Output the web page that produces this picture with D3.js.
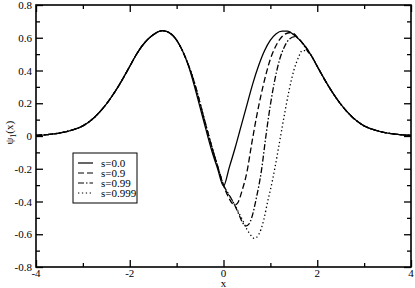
<!DOCTYPE html>
<html>
<head>
	<style type="text/css">
		body { margin: 0; background: #fff; }
		svg text { font-family: "Liberation Serif", "DejaVu Serif", serif; font-size: 11px; fill: #000; }
		.curve { fill: none; stroke: #000; stroke-width: 1.3; }
	</style>
</head>
<body>
	<div id="chart"></div>
	<script src="https://d3js.org/d3.v7.min.js"></script>
	<script type="text/javascript">
		// values
		var xs0  = [-4, -3.75, -3.5, -3.25, -3, -2.75, -2.5, -2.25, -2, -1.875, -1.75, -1.5, -1.3, -1.125, -1, -0.875, -0.75, -0.625, -0.5, -0.375, -0.25, -0.125, 0,
		            0.125, 0.25, 0.375, 0.5, 0.625, 0.75, 0.875, 1, 1.125, 1.25, 1.375, 1.5, 1.75, 1.875, 2, 2.25, 2.5, 2.75, 3, 3.25, 3.5, 3.75, 4];
		var ys0  = [0.004, 0.009, 0.018, 0.035, 0.062, 0.115, 0.195, 0.3, 0.425, 0.49, 0.545, 0.618, 0.643, 0.625, 0.585, 0.52, 0.43, 0.31, 0.175, 0.04, -0.09, -0.2, -0.305,
		            -0.19, -0.07, 0.06, 0.19, 0.32, 0.43, 0.52, 0.585, 0.625, 0.64, 0.64, 0.618, 0.545, 0.49, 0.425, 0.3, 0.195, 0.115, 0.062, 0.035, 0.018, 0.009, 0.004];

		var xs1  = [-0.75, -0.625, -0.5, -0.375, -0.25, -0.125, 0, 0.1, 0.2, 0.25, 0.3, 0.4, 0.5, 0.6, 0.7, 0.8, 0.9, 1, 1.1, 1.2, 1.3, 1.43, 1.5, 1.6, 1.75, 1.875, 2];
		var ys1  = [0.435, 0.33, 0.2, 0.065, -0.065, -0.185, -0.3, -0.37, -0.415, -0.42, -0.41, -0.33, -0.22, -0.05, 0.11, 0.25, 0.37, 0.47, 0.54, 0.59, 0.62, 0.632, 0.625, 0.595, 0.545, 0.49, 0.425];

		var xs2  = [-0.75, -0.625, -0.5, -0.375, -0.25, -0.125, 0, 0.1, 0.2, 0.3, 0.4, 0.47, 0.55, 0.6, 0.7, 0.81, 0.9, 1, 1.1, 1.2, 1.3, 1.4, 1.52, 1.6, 1.7, 1.8, 1.875, 2];
		var ys2  = [0.435, 0.33, 0.2, 0.065, -0.065, -0.185, -0.3, -0.35, -0.4, -0.46, -0.525, -0.55, -0.535, -0.5, -0.38, -0.21, -0.01, 0.19, 0.35, 0.47, 0.545, 0.59, 0.607, 0.595, 0.56, 0.515, 0.49, 0.425];

		var xs3  = [-0.75, -0.625, -0.5, -0.375, -0.25, -0.125, 0, 0.2, 0.4, 0.5, 0.6, 0.65, 0.7, 0.8, 0.86, 0.95, 1, 1.1, 1.2, 1.3, 1.4, 1.5, 1.6, 1.68, 1.78, 1.875, 2];
		var ys3  = [0.435, 0.33, 0.2, 0.065, -0.065, -0.185, -0.3, -0.4, -0.51, -0.57, -0.612, -0.625, -0.62, -0.57, -0.51, -0.39, -0.33, -0.19, -0.03, 0.13, 0.28, 0.4, 0.48, 0.522, 0.52, 0.49, 0.425];

		var series = [
			{ name: "s=0.0",   xs: xs0, ys: ys0, dash: null },
			{ name: "s=0.9",   xs: xs1, ys: ys1, dash: "6,3" },
			{ name: "s=0.99",  xs: xs2, ys: ys2, dash: "6,2,1.5,2" },
			{ name: "s=0.999", xs: xs3, ys: ys3, dash: "1.3,2.6" }
		];

		var xMajor = [-4, -2, 0, 2, 4],
			xMinor = [-3, -1, 1, 3],
			yMajor = [-0.8, -0.6, -0.4, -0.2, 0, 0.2, 0.4, 0.6, 0.8],
			yMinor = [-0.7, -0.5, -0.3, -0.1, 0.1, 0.3, 0.5, 0.7];

		var width = 415, height = 288;
		var pL = 36, pR = 411, pT = 5, pB = 267;
		var serif = '"Liberation Serif", "DejaVu Serif", serif';

		var svg = d3.select('#chart').append('svg')
			.attr('width', width)
			.attr('height', height);

		var x = d3.scaleLinear().domain([-4, 4]).range([pL, pR]),
			y = d3.scaleLinear().domain([-0.8, 0.8]).range([pB, pT]);

		// the shared branches of s=0 go into the s>0 curves too
		function pts(s) {
			var p = [];
			if (s.xs !== xs0) {
				xs0.forEach(function(v, i) { if (v < s.xs[0]) p.push([v, ys0[i]]); });
			}
			s.xs.forEach(function(v, i) { p.push([v, s.ys[i]]); });
			if (s.xs !== xs0) {
				xs0.forEach(function(v, i) { if (v > s.xs[s.xs.length - 1]) p.push([v, ys0[i]]); });
			}
			return p;
		}

		var line = d3.line()
			.x(function(d) { return x(d[0]); })
			.y(function(d) { return y(d[1]); })
			.curve(d3.curveMonotoneX);

		svg.selectAll('path.curve')
			.data(series.slice().reverse())
			.enter().append('path')
			.attr('class', 'curve')
			.attr('d', function(d) { return line(pts(d)); })
			.attr('stroke-dasharray', function(d) { return d.dash; });

		// axes with inward ticks on all four sides
		function ticks(axis, vals, size, tx, ty) {
			svg.append('g').attr('class', 'ax')
				.attr('transform', 'translate(' + tx + ',' + ty + ')')
				.call(axis.tickValues(vals).tickSize(size).tickFormat(''));
		}
		ticks(d3.axisTop(x), xMajor, 7, 0, pB);
		ticks(d3.axisTop(x), xMinor, 4, 0, pB);
		ticks(d3.axisBottom(x), xMajor, 7, 0, pT);
		ticks(d3.axisBottom(x), xMinor, 4, 0, pT);
		ticks(d3.axisRight(y), yMajor, 7, pL, 0);
		ticks(d3.axisRight(y), yMinor, 4, pL, 0);
		ticks(d3.axisLeft(y), yMajor, 7, pR, 0);
		ticks(d3.axisLeft(y), yMinor, 4, pR, 0);
		svg.selectAll('.ax .domain').remove();
		svg.selectAll('.ax text').remove();
		svg.selectAll('.ax line').attr('stroke', '#000').attr('stroke-width', 1.3);

		svg.append('rect')
			.attr('x', pL).attr('y', pT)
			.attr('width', pR - pL).attr('height', pB - pT)
			.attr('fill', 'none').attr('stroke', '#000').attr('stroke-width', 1.6);

		// tick labels
		svg.selectAll('text.xl').data(xMajor).enter().append('text')
			.attr('class', 'xl')
			.attr('font-family', serif)
			.attr('x', function(d) { return x(d); })
			.attr('y', pB + 10)
			.attr('text-anchor', 'middle')
			.text(function(d) { return d; });

		svg.selectAll('text.yl').data(yMajor).enter().append('text')
			.attr('class', 'yl')
			.attr('font-family', serif)
			.attr('x', pL - 4)
			.attr('y', function(d) { return y(d) + 4; })
			.attr('text-anchor', 'end')
			.text(function(d) { return d === 0 ? '0' : d.toFixed(1); });

		svg.append('text')
			.attr('font-family', serif)
			.attr('x', x(0)).attr('y', 287)
			.attr('text-anchor', 'middle')
			.text('x');

		var yl = svg.append('text')
			.attr('font-family', serif)
			.attr('transform', 'translate(13,' + y(0.02) + ') rotate(-90)')
			.attr('text-anchor', 'middle');
		yl.append('tspan').text('\u03c8');
		yl.append('tspan').attr('dy', 3).style('font-size', '8px').text('1');
		yl.append('tspan').attr('dy', -3).text('(x)');

		// legend
		var lg = svg.append('g').attr('transform', 'translate(73,153)');
		lg.append('rect').attr('width', 64).attr('height', 50)
			.attr('fill', '#fff').attr('stroke', '#000').attr('stroke-width', 1);
		var row = lg.selectAll('g.row').data(series).enter().append('g')
			.attr('transform', function(d, i) { return 'translate(0,' + (10 + i * 10) + ')'; });
		row.append('line')
			.attr('x1', 5).attr('x2', 20)
			.attr('stroke', '#000').attr('stroke-width', 1.2)
			.attr('stroke-dasharray', function(d) { return d.dash; });
		row.append('text')
			.attr('font-family', serif)
			.attr('x', 28).attr('y', 4)
			.text(function(d) { return d.name; });
	</script>
</body>
</html>
